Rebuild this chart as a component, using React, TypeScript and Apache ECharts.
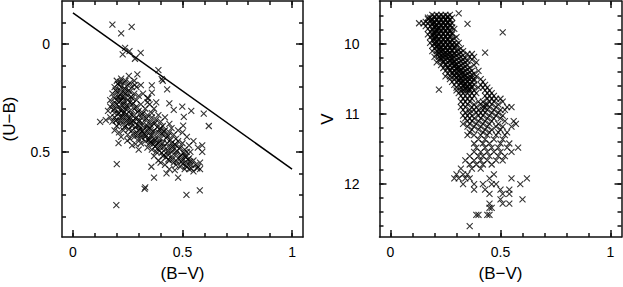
import React, { useEffect, useRef } from "react";
import * as echarts from "echarts";

const xMinorTicks = [0, 0.1, 0.2, 0.3, 0.4, 0.5, 0.6, 0.7, 0.8, 0.9, 1];
const xMajorTicks = [0, 0.5, 1];
const xTickLabels = [0, 0.5, 1];
const ubMinorTicks = [-0.1, 0, 0.1, 0.2, 0.3, 0.4, 0.5, 0.6, 0.7, 0.8];
const ubMajorTicks = [0, 0.5];
const vMinorTicks = [9.6, 9.8, 10, 10.2, 10.4, 10.6, 10.8, 11, 11.2, 11.4, 11.6, 11.8, 12, 12.2, 12.4, 12.6];
const vMajorTicks = [10, 11, 12];

const reddeningLine = [[0, -0.145], [1, 0.58]];

// (B-V, U-B) pairs
const ubPoints = [
  [0.18, -0.09], [0.268, -0.08], [0.22, -0.05], [0.238, 0.018], [0.258, 0.033], [0.227, 0.048], [0.309, 0.041],
  [0.283, 0.068], [0.39, 0.121], [0.405, 0.162], [0.36, 0.192], [0.43, 0.21], [0.294, 0.14], [0.255, 0.147],
  [0.282, 0.189], [0.499, 0.29], [0.54, 0.31], [0.597, 0.323], [0.62, 0.38], [0.506, 0.338], [0.503, 0.378],
  [0.44, 0.275], [0.46, 0.305], [0.124, 0.361], [0.15, 0.353], [0.2, 0.557], [0.208, 0.459], [0.248, 0.448],
  [0.286, 0.464], [0.358, 0.569], [0.37, 0.619], [0.427, 0.6], [0.48, 0.619], [0.327, 0.672], [0.33, 0.665],
  [0.518, 0.7], [0.579, 0.679], [0.198, 0.747], [0.59, 0.5], [0.59, 0.47], [0.567, 0.577], [0.54, 0.577],
  [0.5, 0.556], [0.536, 0.5], [0.465, 0.585], [0.36, 0.225], [0.344, 0.252], [0.41, 0.17],
  [0.2, 0.17], [0.22, 0.16], [0.23, 0.18], [0.21, 0.19], [0.24, 0.17], [0.25, 0.19], [0.26, 0.18], [0.22, 0.2],
  [0.19, 0.2], [0.27, 0.2], [0.29, 0.2], [0.31, 0.19], [0.28, 0.17], [0.24, 0.21],
  [0.18, 0.23], [0.19, 0.25], [0.2, 0.22], [0.21, 0.24], [0.22, 0.23], [0.23, 0.25], [0.24, 0.23], [0.25, 0.24],
  [0.26, 0.22], [0.27, 0.25], [0.28, 0.23], [0.3, 0.24], [0.32, 0.23], [0.2, 0.26], [0.22, 0.26], [0.25, 0.26],
  [0.17, 0.26], [0.29, 0.26], [0.34, 0.25],
  [0.17, 0.29], [0.18, 0.28], [0.19, 0.3], [0.2, 0.28], [0.21, 0.29], [0.22, 0.31], [0.23, 0.28], [0.24, 0.3],
  [0.25, 0.29], [0.26, 0.31], [0.27, 0.28], [0.28, 0.3], [0.29, 0.29], [0.3, 0.31], [0.31, 0.28], [0.33, 0.3],
  [0.35, 0.28], [0.37, 0.3], [0.16, 0.31], [0.19, 0.32], [0.21, 0.32], [0.23, 0.32], [0.26, 0.27], [0.32, 0.32],
  [0.36, 0.32], [0.38, 0.27], [0.34, 0.27],
  [0.17, 0.34], [0.18, 0.36], [0.19, 0.34], [0.2, 0.35], [0.21, 0.37], [0.22, 0.34], [0.23, 0.36], [0.24, 0.34],
  [0.25, 0.37], [0.26, 0.35], [0.27, 0.33], [0.28, 0.36], [0.29, 0.34], [0.3, 0.36], [0.31, 0.34], [0.32, 0.37],
  [0.33, 0.35], [0.34, 0.33], [0.35, 0.36], [0.36, 0.34], [0.37, 0.37], [0.38, 0.35], [0.39, 0.33], [0.4, 0.36],
  [0.42, 0.34], [0.44, 0.37], [0.2, 0.38], [0.24, 0.38], [0.27, 0.38], [0.3, 0.38], [0.34, 0.38], [0.41, 0.38],
  [0.19, 0.4], [0.21, 0.41], [0.23, 0.4], [0.25, 0.42], [0.27, 0.4], [0.28, 0.43], [0.29, 0.41], [0.3, 0.4],
  [0.31, 0.42], [0.32, 0.4], [0.33, 0.43], [0.34, 0.41], [0.35, 0.39], [0.36, 0.42], [0.37, 0.4], [0.38, 0.43],
  [0.39, 0.41], [0.4, 0.39], [0.41, 0.42], [0.42, 0.4], [0.43, 0.43], [0.44, 0.41], [0.45, 0.39], [0.46, 0.42],
  [0.48, 0.4], [0.5, 0.41], [0.52, 0.43], [0.22, 0.43], [0.26, 0.44], [0.3, 0.44], [0.35, 0.44], [0.4, 0.44],
  [0.47, 0.44],
  [0.31, 0.46], [0.33, 0.45], [0.34, 0.48], [0.35, 0.46], [0.36, 0.49], [0.37, 0.45], [0.38, 0.47], [0.39, 0.46],
  [0.4, 0.48], [0.41, 0.46], [0.42, 0.49], [0.43, 0.46], [0.44, 0.48], [0.45, 0.46], [0.46, 0.49], [0.47, 0.47],
  [0.48, 0.45], [0.49, 0.48], [0.5, 0.46], [0.51, 0.49], [0.53, 0.47], [0.55, 0.45], [0.57, 0.48], [0.27, 0.47],
  [0.3, 0.49], [0.38, 0.5], [0.45, 0.5], [0.52, 0.5],
  [0.37, 0.52], [0.39, 0.54], [0.41, 0.52], [0.43, 0.51], [0.44, 0.54], [0.45, 0.52], [0.46, 0.55], [0.47, 0.51],
  [0.48, 0.53], [0.49, 0.52], [0.5, 0.54], [0.51, 0.52], [0.52, 0.55], [0.53, 0.53], [0.55, 0.54], [0.56, 0.56],
  [0.58, 0.55], [0.42, 0.56], [0.47, 0.56], [0.54, 0.56], [0.4, 0.55],
  [0.51, 0.58], [0.52, 0.57], [0.53, 0.58], [0.57, 0.57], [0.58, 0.58], [0.55, 0.59], [0.49, 0.57], [0.44, 0.58],
  [0.205, 0.185], [0.215, 0.215], [0.225, 0.245], [0.235, 0.205], [0.195, 0.275], [0.215, 0.305], [0.235, 0.265],
  [0.245, 0.285], [0.205, 0.325], [0.225, 0.335], [0.245, 0.355], [0.265, 0.325], [0.285, 0.345], [0.305, 0.355],
  [0.325, 0.385], [0.345, 0.395], [0.365, 0.405], [0.385, 0.385], [0.405, 0.415], [0.425, 0.435], [0.445, 0.445],
  [0.465, 0.465], [0.485, 0.485], [0.505, 0.505], [0.525, 0.535], [0.355, 0.425], [0.375, 0.445], [0.395, 0.455],
  [0.415, 0.475], [0.435, 0.495],
];

// extra points in the densest parts of the left panel
const ubCore = [
  [0.195, 0.215], [0.205, 0.245], [0.215, 0.265], [0.225, 0.285], [0.235, 0.315], [0.245, 0.325], [0.255, 0.345],
  [0.265, 0.365], [0.275, 0.355], [0.285, 0.385], [0.295, 0.375], [0.305, 0.395], [0.315, 0.405], [0.325, 0.415],
  [0.335, 0.425], [0.345, 0.445], [0.355, 0.455], [0.365, 0.465], [0.375, 0.475], [0.385, 0.485], [0.395, 0.495],
  [0.405, 0.505], [0.415, 0.515], [0.425, 0.525], [0.435, 0.535], [0.455, 0.535], [0.475, 0.545], [0.495, 0.545],
  [0.515, 0.565], [0.185, 0.305], [0.195, 0.355], [0.215, 0.355], [0.235, 0.385], [0.255, 0.395], [0.275, 0.415],
  [0.295, 0.425], [0.315, 0.435], [0.215, 0.175], [0.235, 0.225], [0.255, 0.215], [0.265, 0.245], [0.275, 0.275],
  [0.295, 0.315], [0.315, 0.325], [0.335, 0.345], [0.355, 0.375], [0.375, 0.365], [0.395, 0.395], [0.415, 0.405],
  [0.435, 0.425], [0.455, 0.475], [0.475, 0.495], [0.495, 0.515], [0.515, 0.525], [0.535, 0.545],
];

// right panel, rows of equal V with the B-V values read along each row
const vRows: { v: number; bv: number[] }[] = [
  { v: 9.58, bv: [0.19, 0.21, 0.23, 0.25, 0.27] },
  { v: 9.6, bv: [0.2, 0.22, 0.24, 0.26] },
  { v: 9.62, bv: [0.17, 0.18, 0.2, 0.22, 0.24, 0.26, 0.28] },
  { v: 9.64, bv: [0.17, 0.19, 0.21, 0.23, 0.25, 0.27] },
  { v: 9.66, bv: [0.18, 0.19, 0.21, 0.23, 0.25, 0.27] },
  { v: 9.68, bv: [0.16, 0.2, 0.22, 0.24, 0.26] },
  { v: 9.7, bv: [0.13, 0.15, 0.17, 0.19, 0.2, 0.22, 0.24, 0.26, 0.28] },
  { v: 9.72, bv: [0.19, 0.21, 0.23, 0.25, 0.27] },
  { v: 9.74, bv: [0.16, 0.18, 0.2, 0.21, 0.23, 0.25, 0.27] },
  { v: 9.76, bv: [0.2, 0.22, 0.24, 0.26, 0.28] },
  { v: 9.78, bv: [0.17, 0.19, 0.21, 0.22, 0.24, 0.26, 0.29] },
  { v: 9.8, bv: [0.19, 0.21, 0.23, 0.25, 0.27] },
  { v: 9.82, bv: [0.18, 0.2, 0.21, 0.23, 0.25, 0.27] },
  { v: 9.84, bv: [0.2, 0.22, 0.24, 0.26, 0.28] },
  { v: 9.86, bv: [0.17, 0.19, 0.2, 0.22, 0.24, 0.26, 0.28] },
  { v: 9.88, bv: [0.19, 0.21, 0.23, 0.25, 0.27] },
  { v: 9.9, bv: [0.18, 0.2, 0.21, 0.23, 0.25, 0.27, 0.3] },
  { v: 9.92, bv: [0.2, 0.22, 0.24, 0.26, 0.29] },
  { v: 9.94, bv: [0.19, 0.2, 0.22, 0.24, 0.26, 0.28] },
  { v: 9.96, bv: [0.21, 0.23, 0.25, 0.27] },
  { v: 9.98, bv: [0.18, 0.2, 0.21, 0.23, 0.25, 0.27, 0.29, 0.31] },
  { v: 10.0, bv: [0.2, 0.22, 0.24, 0.26, 0.28, 0.3] },
  { v: 10.02, bv: [0.19, 0.21, 0.22, 0.24, 0.26, 0.28, 0.3] },
  { v: 10.04, bv: [0.21, 0.23, 0.25, 0.27, 0.29] },
  { v: 10.06, bv: [0.2, 0.22, 0.23, 0.25, 0.27, 0.29, 0.32] },
  { v: 10.08, bv: [0.22, 0.24, 0.26, 0.28, 0.31] },
  { v: 10.1, bv: [0.19, 0.21, 0.23, 0.24, 0.26, 0.28, 0.3, 0.33] },
  { v: 10.12, bv: [0.22, 0.25, 0.27, 0.29, 0.32] },
  { v: 10.14, bv: [0.21, 0.22, 0.24, 0.26, 0.27, 0.29, 0.31, 0.35, 0.37] },
  { v: 10.16, bv: [0.23, 0.25, 0.28, 0.3, 0.33] },
  { v: 10.18, bv: [0.2, 0.22, 0.24, 0.25, 0.27, 0.29, 0.32, 0.36, 0.38] },
  { v: 10.2, bv: [0.23, 0.26, 0.28, 0.31, 0.34] },
  { v: 10.22, bv: [0.22, 0.23, 0.25, 0.27, 0.28, 0.3, 0.33, 0.37] },
  { v: 10.24, bv: [0.24, 0.27, 0.29, 0.32, 0.35] },
  { v: 10.26, bv: [0.21, 0.24, 0.26, 0.28, 0.29, 0.31, 0.34, 0.39] },
  { v: 10.28, bv: [0.25, 0.28, 0.3, 0.33] },
  { v: 10.3, bv: [0.23, 0.25, 0.27, 0.29, 0.3, 0.32, 0.35, 0.38] },
  { v: 10.32, bv: [0.26, 0.29, 0.31, 0.34] },
  { v: 10.34, bv: [0.24, 0.26, 0.28, 0.3, 0.31, 0.33, 0.36] },
  { v: 10.36, bv: [0.27, 0.3, 0.32, 0.35] },
  { v: 10.38, bv: [0.25, 0.27, 0.29, 0.31, 0.32, 0.34, 0.37, 0.4] },
  { v: 10.4, bv: [0.28, 0.3, 0.33, 0.36] },
  { v: 10.42, bv: [0.26, 0.28, 0.3, 0.32, 0.33, 0.35, 0.38] },
  { v: 10.44, bv: [0.29, 0.31, 0.34, 0.37] },
  { v: 10.46, bv: [0.25, 0.27, 0.29, 0.31, 0.33, 0.34, 0.36, 0.39] },
  { v: 10.48, bv: [0.3, 0.32, 0.35, 0.37] },
  { v: 10.5, bv: [0.27, 0.29, 0.31, 0.32, 0.34, 0.36, 0.38, 0.41] },
  { v: 10.52, bv: [0.31, 0.33, 0.35, 0.38] },
  { v: 10.54, bv: [0.28, 0.3, 0.32, 0.33, 0.35, 0.37, 0.42] },
  { v: 10.56, bv: [0.32, 0.34, 0.36] },
  { v: 10.58, bv: [0.29, 0.31, 0.33, 0.34, 0.36, 0.38, 0.41, 0.43] },
  { v: 10.6, bv: [0.33, 0.35, 0.37] },
  { v: 10.62, bv: [0.3, 0.32, 0.34, 0.35, 0.37, 0.4, 0.42, 0.44] },
  { v: 10.64, bv: [0.34, 0.36] },
  { v: 10.66, bv: [0.3, 0.32, 0.33, 0.35, 0.36, 0.38, 0.43, 0.45] },
  { v: 10.7, bv: [0.31, 0.33, 0.35, 0.37, 0.39, 0.44, 0.46] },
  { v: 10.74, bv: [0.32, 0.34, 0.36, 0.38, 0.43, 0.45, 0.47] },
  { v: 10.78, bv: [0.33, 0.35, 0.37, 0.44, 0.46, 0.48, 0.5] },
  { v: 10.82, bv: [0.32, 0.34, 0.36, 0.4, 0.42, 0.45, 0.47, 0.51] },
  { v: 10.86, bv: [0.33, 0.35, 0.38, 0.41, 0.43, 0.44, 0.46, 0.49] },
  { v: 10.9, bv: [0.32, 0.34, 0.37, 0.39, 0.42, 0.43, 0.45, 0.48, 0.53, 0.55] },
  { v: 10.94, bv: [0.33, 0.36, 0.38, 0.4, 0.42, 0.44, 0.47, 0.5, 0.52] },
  { v: 10.98, bv: [0.34, 0.36, 0.39, 0.41, 0.43, 0.46, 0.49] },
  { v: 11.02, bv: [0.33, 0.35, 0.37, 0.4, 0.42, 0.45, 0.48, 0.51] },
  { v: 11.06, bv: [0.34, 0.36, 0.38, 0.41, 0.44, 0.47, 0.5] },
  { v: 11.1, bv: [0.35, 0.37, 0.4, 0.43, 0.46, 0.52, 0.56] },
  { v: 11.14, bv: [0.33, 0.36, 0.39, 0.42, 0.45, 0.49, 0.57] },
  { v: 11.18, bv: [0.35, 0.38, 0.41, 0.44, 0.48, 0.51, 0.55] },
  { v: 11.22, bv: [0.37, 0.4, 0.43, 0.46, 0.5] },
  { v: 11.26, bv: [0.36, 0.42, 0.45, 0.49, 0.53] },
  { v: 11.3, bv: [0.35, 0.38, 0.41, 0.44, 0.48, 0.52] },
  { v: 11.36, bv: [0.4, 0.43, 0.47, 0.51] },
  { v: 11.42, bv: [0.38, 0.42, 0.45, 0.5, 0.54] },
  { v: 11.48, bv: [0.39, 0.43, 0.46, 0.49, 0.53, 0.58] },
  { v: 11.54, bv: [0.38, 0.41, 0.44, 0.47, 0.5, 0.55] },
  { v: 11.6, bv: [0.36, 0.4, 0.42, 0.45, 0.49, 0.52] },
  { v: 11.66, bv: [0.34, 0.38, 0.41, 0.44, 0.48, 0.51] },
  { v: 11.72, bv: [0.36, 0.39, 0.42, 0.46] },
  { v: 11.78, bv: [0.32, 0.37, 0.41] },
  { v: 11.86, bv: [0.3, 0.33, 0.35, 0.47] },
  { v: 11.92, bv: [0.29, 0.31, 0.34, 0.36, 0.45, 0.55, 0.62] },
  { v: 12.0, bv: [0.33, 0.38, 0.42, 0.46, 0.48, 0.59] },
  { v: 12.08, bv: [0.38, 0.43, 0.5, 0.54] },
  { v: 12.14, bv: [0.45, 0.51, 0.54] },
  { v: 12.22, bv: [0.5, 0.6] },
  { v: 12.28, bv: [0.45, 0.51, 0.54] },
  { v: 12.34, bv: [0.45, 0.46] },
  { v: 12.44, bv: [0.39, 0.4, 0.44, 0.45] },
  { v: 12.6, bv: [0.36] },
];
const vOutliers = [[0.31, 9.56], [0.35, 9.71], [0.51, 9.83], [0.22, 10.65], [0.43, 10.12]];

const FONT = "Liberation Sans, Arial, sans-serif";
const FRAME = { color: "#111", width: 1.5 };
const CROSS = "path://M0,0L10,10M10,0L0,10";

function xAxes(gridIndex: number) {
  const base: any = {
    type: "value", gridIndex, min: -0.05, max: 1.05,
    splitLine: { show: false },
    axisLine: { show: false, onZero: false },
    axisLabel: { show: false },
    axisTick: { show: false },
  };
  return [
    {
      ...base, position: "bottom",
      axisLine: { show: true, onZero: false, lineStyle: FRAME },
      axisTick: { show: true, inside: true, length: 4, customValues: xMinorTicks, lineStyle: FRAME },
      axisLabel: { show: true, customValues: xTickLabels, margin: 8, fontSize: 14, color: "#000", fontFamily: FONT },
      name: "(B\u2212V)", nameLocation: "middle", nameGap: 28,
      nameTextStyle: { fontSize: 17, color: "#000", fontFamily: FONT },
    },
    { ...base, position: "bottom", axisTick: { show: true, inside: true, length: 7, customValues: xMajorTicks, lineStyle: FRAME } },
    {
      ...base, position: "top",
      axisLine: { show: true, onZero: false, lineStyle: FRAME },
      axisTick: { show: true, inside: true, length: 4, customValues: xMinorTicks, lineStyle: FRAME },
    },
    { ...base, position: "top", axisTick: { show: true, inside: true, length: 7, customValues: xMajorTicks, lineStyle: FRAME } },
  ];
}

function yAxes(gridIndex: number, min: number, max: number, minor: number[], major: number[], name: string, labelMargin: number) {
  const base: any = {
    type: "value", gridIndex, min, max, inverse: true,
    splitLine: { show: false },
    axisLine: { show: false, onZero: false },
    axisLabel: { show: false },
    axisTick: { show: false },
  };
  return [
    {
      ...base, position: "left",
      axisLine: { show: true, onZero: false, lineStyle: FRAME },
      axisTick: { show: true, inside: true, length: 4, customValues: minor, lineStyle: FRAME },
      axisLabel: { show: true, customValues: major, margin: labelMargin, fontSize: 14, color: "#000", fontFamily: FONT },
      name, nameLocation: "middle", nameGap: 44, nameRotate: 90,
      nameTextStyle: { fontSize: 17, color: "#000", fontFamily: FONT },
    },
    { ...base, position: "left", axisTick: { show: true, inside: true, length: 7, customValues: major, lineStyle: FRAME } },
    {
      ...base, position: "right",
      axisLine: { show: true, onZero: false, lineStyle: FRAME },
      axisTick: { show: true, inside: true, length: 4, customValues: minor, lineStyle: FRAME },
    },
    { ...base, position: "right", axisTick: { show: true, inside: true, length: 7, customValues: major, lineStyle: FRAME } },
  ];
}

export default function App() {
  const ref = useRef<HTMLDivElement>(null);
  useEffect(() => {
    if (!ref.current) return;
    const chart = echarts.init(ref.current, null, { renderer: "svg" });
    const vPoints: number[][] = [];
    vRows.forEach((r) => r.bv.forEach((b) => vPoints.push([b, r.v])));
    vOutliers.forEach((p) => vPoints.push(p));
    const scatterStyle = {
      symbol: CROSS,
      symbolSize: 6,
      itemStyle: { color: "rgba(0,0,0,0)", borderColor: "#000", borderWidth: 1.1 },
      silent: true,
    };
    chart.setOption({
      animation: false,
      backgroundColor: "#fff",
      grid: [
        { left: 61, top: 1, width: 242, height: 241 },
        { left: 379.5, top: 1, width: 242, height: 241 },
      ],
      xAxis: [...xAxes(0), ...xAxes(1)],
      yAxis: [
        ...yAxes(0, -0.2, 0.895, ubMinorTicks, ubMajorTicks, "(U\u2212B)", 12),
        ...yAxes(1, 9.382, 12.757, vMinorTicks, vMajorTicks, "V", 20),
      ],
      series: [
        { type: "scatter", xAxisIndex: 0, yAxisIndex: 0, data: [...ubPoints, ...ubCore], ...scatterStyle },
        {
          type: "line", xAxisIndex: 0, yAxisIndex: 0, data: reddeningLine, symbol: "none", silent: true,
          lineStyle: { color: "#000", width: 1.5 },
        },
        { type: "scatter", xAxisIndex: 4, yAxisIndex: 4, data: vPoints, ...scatterStyle },
      ],
    });
    return () => chart.dispose();
  }, []);
  return <div ref={ref} style={{ position: "fixed", left: 0, top: 0, width: 623, height: 287 }} />;
}
